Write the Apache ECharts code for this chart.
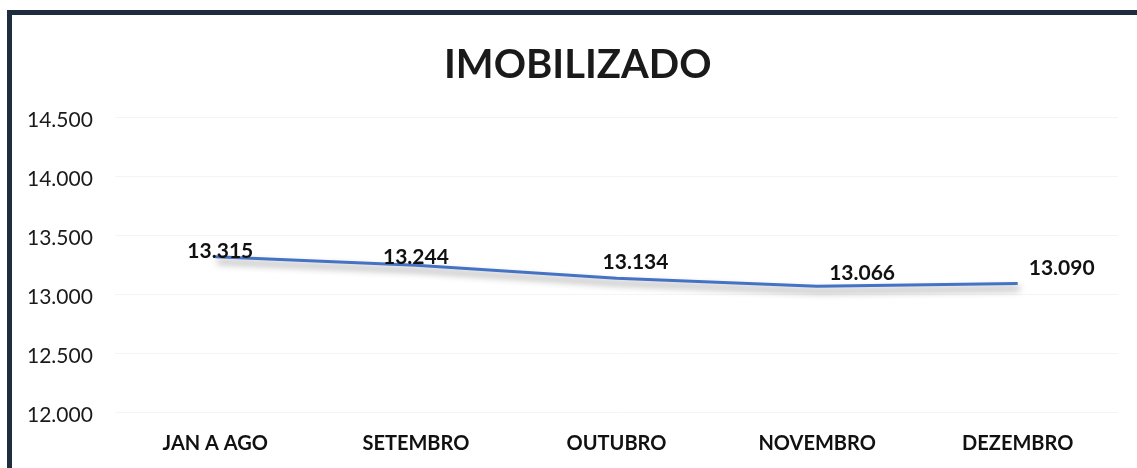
<!DOCTYPE html>
<html>
<head>
<meta charset="utf-8">
<script src="https://cdn.jsdelivr.net/npm/echarts@6/dist/echarts.min.js"></script>
<style>
  html, body { margin: 0; padding: 0; overflow: hidden; background: #fff; }
  #chart { width: 1137px; height: 468px; }
  #frame {
    position: absolute; left: 7px; top: 10px; width: 1300px; height: 600px;
    border: 5px solid #1f2c3e; pointer-events: none;
  }
</style>
</head>
<body>
<div id="chart"></div>
<div id="frame"></div>
<script>
const categories = ['JAN A AGO', 'SETEMBRO', 'OUTUBRO', 'NOVEMBRO', 'DEZEMBRO']
const values = [13315, 13244, 13134, 13066, 13090]
// deslocamento dos rótulos (como no original)
const labelOffsets = [[5, 10], [0, 8], [19, 0], [45, 3], [44, 1]]

const fmt = v => v.toLocaleString('pt-BR')

const chart = echarts.init(document.getElementById('chart'))
chart.setOption({
  backgroundColor: '#fff',
  animation: false,
  title: {
    text: 'IMOBILIZADO',
    left: 439,
    top: 40,
    textStyle: { fontFamily: 'Lato', fontWeight: 'bold', fontSize: 40, color: '#1a1a1a' }
  },
  grid: { left: 115, right: 19, top: 117, bottom: 56, containLabel: false },
  xAxis: {
    type: 'category',
    data: categories,
    boundaryGap: true,
    axisLine: { show: false },
    axisTick: { show: false },
    axisLabel: { fontFamily: 'Lato', fontWeight: 'bold', fontSize: 20, color: '#111', margin: 22 }
  },
  yAxis: {
    type: 'value',
    min: 12000,
    max: 14500,
    interval: 500,
    axisLine: { show: false },
    axisTick: { show: false },
    splitLine: { lineStyle: { color: '#f4f4f4', width: 1 } },
    axisLabel: {
      fontFamily: 'Lato', fontSize: 21, color: '#1a1a1a',
      align: 'left', margin: 88,
      verticalAlign: 'top', lineHeight: 6,
      formatter: fmt
    }
  },
  series: [{
    type: 'line',
    data: values.map((v, i) => ({
      value: v,
      label: { offset: labelOffsets[i] }
    })),
    showSymbol: true,
    symbol: 'circle',
    symbolSize: 1,
    itemStyle: { color: 'rgba(0,0,0,0)' },
    lineStyle: {
      color: '#4472c4', width: 3,
      shadowColor: 'rgba(0,0,0,0.45)', shadowBlur: 7, shadowOffsetX: 2, shadowOffsetY: 5
    },
    label: {
      show: true,
      position: 'top',
      fontFamily: 'Lato', fontWeight: 'bold', fontSize: 21, color: '#111',
      formatter: p => fmt(p.value)
    }
  }]
})
</script>
</body>
</html>
